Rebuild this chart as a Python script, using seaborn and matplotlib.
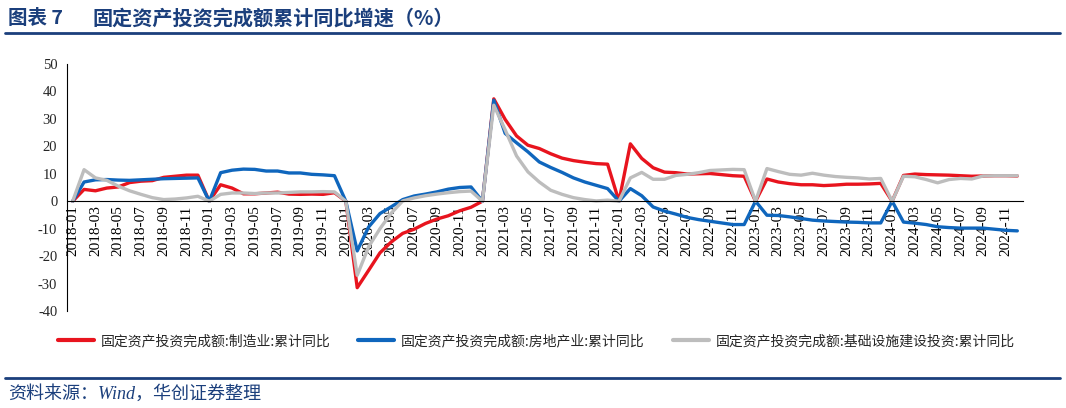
import numpy as np
import pandas as pd
import matplotlib
matplotlib.use("Agg")
import matplotlib.pyplot as plt
import seaborn as sns

# ---------------- data ----------------
months = [str(p) for p in pd.period_range("2018-01", "2024-12", freq="M")]

manufacturing = [
    0, 4.3, 3.8, 4.8, 5.2, 6.8, 7.3, 7.5, 8.7, 9.1, 9.5, 9.5,
    0, 6.0, 4.8, 2.7, 2.7, 3.0, 3.3, 2.6, 2.5, 2.6, 2.5, 3.1,
    0, -31.5, -25.2, -18.8, -14.8, -11.7, -10.2, -8.1, -6.5, -5.3, -3.5, -2.2,
    0, 37.3, 29.8, 23.8, 20.4, 19.2, 17.3, 15.7, 14.8, 14.2, 13.7, 13.5,
    0, 20.9, 15.6, 12.2, 10.6, 10.4, 9.9, 10.0, 10.1, 9.7, 9.3, 9.1,
    0, 8.1, 7.0, 6.4, 6.0, 6.0, 5.7, 5.9, 6.2, 6.2, 6.3, 6.5,
    0, 9.4, 9.9, 9.7, 9.6, 9.5, 9.3, 9.1, 9.2, 9.3, 9.3, 9.2,
]
real_estate = [
    0, 7.0, 7.8, 7.9, 7.7, 7.6, 7.8, 8.0, 8.2, 8.3, 8.4, 8.5,
    0, 10.4, 11.3, 11.7, 11.6, 11.0, 11.0, 10.3, 10.3, 9.8, 9.6, 9.3,
    0, -18.1, -9.4, -4.5, -2.0, 0.6, 1.9, 2.6, 3.4, 4.4, 5.0, 5.2,
    0, 36.8, 24.7, 21.3, 18.0, 14.3, 12.3, 10.5, 8.5, 7.0, 5.8, 4.6,
    0, 4.6, 2.0, -2.1, -3.6, -4.7, -5.9, -6.7, -7.3, -7.9, -8.5, -8.5,
    0, -5.1, -5.2, -5.7, -6.3, -6.9, -7.2, -7.4, -7.6, -7.7, -7.9, -7.9,
    0, -7.6, -8.0, -8.5, -9.3, -9.6, -9.8, -9.8, -9.8, -10.2, -10.6, -10.8,
]
infrastructure = [
    0, 11.5, 8.5, 7.6, 5.5, 3.8, 2.5, 1.3, 0.6, 0.8, 1.2, 1.8,
    0, 2.5, 3.0, 3.0, 2.8, 3.0, 3.0, 3.2, 3.4, 3.4, 3.5, 3.4,
    0, -27.0, -16.6, -10.0, -4.3, 0.1, 1.2, 2.0, 2.6, 3.1, 3.5, 3.7,
    0, 35.0, 26.0, 16.5, 10.7, 7.0, 4.0, 2.5, 1.3, 0.6, 0.1, 0.4,
    0, 8.5, 10.5, 8.0, 8.0, 9.4, 9.8, 10.4, 11.2, 11.4, 11.6, 11.5,
    0, 11.9, 10.8, 9.8, 9.5, 10.2, 9.5, 9.0, 8.7, 8.5, 8.1, 8.3,
    0, 9.1, 8.9, 7.9, 6.7, 7.9, 8.3, 8.1, 9.2, 9.3, 9.3, 9.3,
]

series_names = [
    "固定资产投资完成额:制造业:累计同比",
    "固定资产投资完成额:房地产业:累计同比",
    "固定资产投资完成额:基础设施建设投资:累计同比",
]
series_colors = ["#E8141E", "#0F66BD", "#BDBDBD"]
y_ticks = [-40, -30, -20, -10, 0, 10, 20, 30, 40, 50]

title_label = "图表 7"
title_text = "固定资产投资完成额累计同比增速（%）"
source_text = "资料来源：Wind，华创证券整理"

# ---------------- frame ----------------
idx = np.arange(len(months))
df = pd.concat([
    pd.DataFrame({"idx": idx, "value": vals, "series": name})
    for name, vals in zip(series_names, [manufacturing, real_estate, infrastructure])
], ignore_index=True)

sns.set_theme(style="white")
plt.rcParams["font.family"] = ["Liberation Serif", "Noto Sans CJK SC", "DejaVu Sans"]
plt.rcParams["axes.unicode_minus"] = False

navy = "#1B3F7C"
fig = plt.figure(figsize=(10.66, 4.08), dpi=100)
ax = fig.add_axes([67 / 1066, 1 - 311 / 408, (1023 - 67) / 1066, (311 - 64) / 408])

sns.lineplot(data=df, x="idx", y="value", hue="series", hue_order=series_names,
             palette=dict(zip(series_names, series_colors)), linewidth=2.4,
             ax=ax, legend=False)

ax.set_xlim(-0.5, len(months) - 0.5)
ax.set_ylim(-40, 50)
ax.set_yticks(y_ticks)
ax.set_yticklabels([str(v) for v in y_ticks])
ax.set_xticks(idx[::2])
ax.set_xticklabels(months[::2])
ax.set_xticks(np.arange(-0.5, len(months), 2), minor=True)
ax.tick_params(axis="x", which="major", length=0, pad=3, colors="black",
               labelrotation=90, labelsize=11)
ax.tick_params(axis="x", which="minor", length=4, width=0.8, direction="out", color="black")
ax.tick_params(axis="y", length=4, width=0.8, direction="out", color="black", pad=3,
               labelsize=10.5)
ax.set_xlabel("")
ax.set_ylabel("")
for s in ["top", "right"]:
    ax.spines[s].set_visible(False)
ax.spines["bottom"].set_position(("data", 0))
for s in ["left", "bottom"]:
    ax.spines[s].set_color("black")
    ax.spines[s].set_linewidth(0.8)
ax.grid(False)
for lab in ax.get_xticklabels() + ax.get_yticklabels():
    lab.set_family("Liberation Serif")
for lab in ax.get_xticklabels():
    lab.set_verticalalignment("top")
    lab.set_rotation(90)

# legend
handles = [plt.Line2D([], [], color=c, linewidth=3) for c in series_colors]
fig.legend(handles, series_names, loc="center", bbox_to_anchor=(0.503, 1 - 341 / 408),
           ncol=3, frameon=False, handlelength=2.6, handletextpad=0.5, columnspacing=2.0,
           prop={"family": ["Noto Sans CJK SC"], "size": 10.0})

# title and rules
fig.text(8 / 1066, 1 - 18 / 408, title_label, color=navy, fontsize=14, fontweight="bold",
         family=["Noto Sans CJK SC"], va="center", ha="left")
fig.text(93 / 1066, 1 - 18 / 408, title_text, color=navy, fontsize=14.5, fontweight="bold",
         family=["Noto Sans CJK SC"], va="center", ha="left")
fig.add_artist(plt.Line2D([5 / 1066, 1060 / 1066], [1 - 33 / 408, 1 - 33 / 408],
                          transform=fig.transFigure, color=navy, linewidth=2))
fig.add_artist(plt.Line2D([5 / 1066, 1060 / 1066], [1 - 378 / 408, 1 - 378 / 408],
                          transform=fig.transFigure, color=navy, linewidth=2))
fig.text(8 / 1066, 1 - 394 / 408, source_text, color=navy, fontsize=13, style="italic",
         family=["Liberation Serif", "Noto Sans CJK SC"], va="center", ha="left")

fig.savefig("out.png", dpi=100)
